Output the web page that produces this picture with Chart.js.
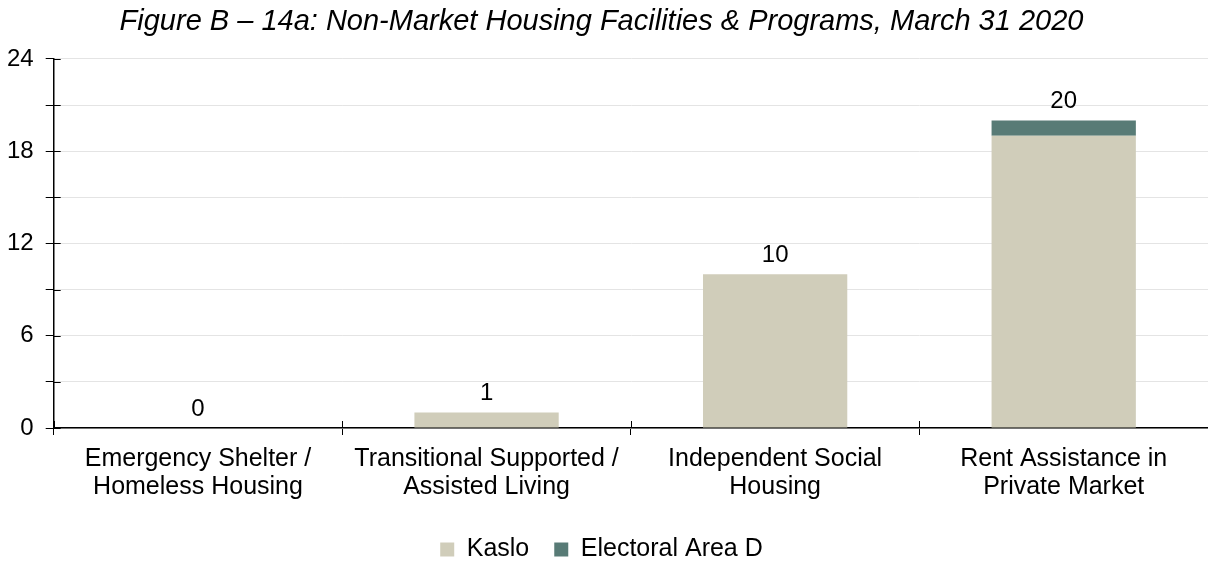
<!DOCTYPE html>
<html>
<head>
<meta charset="utf-8">
<script src="https://cdn.jsdelivr.net/npm/chart.js@4/dist/chart.umd.min.js"></script>
<style>
  html, body { margin: 0; padding: 0; background: #fff; }
  #wrap { width: 1208px; height: 561px; }
</style>
</head>
<body>
<div id="wrap"><canvas id="myChart" width="1208" height="561"></canvas></div>
<script>
// data
const categories = [
    ['Emergency Shelter /', 'Homeless Housing'],
    ['Transitional Supported /', 'Assisted Living'],
    ['Independent Social', 'Housing'],
    ['Rent Assistance in', 'Private Market']
];
const kaslo = [0, 1, 10, 19];
const areaD = [0, 0, 0, 1];
const yTicks = [0, 6, 12, 18, 24];

const FONT = 'Arial, "Liberation Sans", sans-serif';

// totals above each stack + small right-side stubs on the y axis
const extras = {
    id: 'extras',
    afterDatasetsDraw(chart) {
        const ctx = chart.ctx;
        const x = chart.scales.x, y = chart.scales.y;
        ctx.save();
        ctx.font = '24px ' + FONT;
        ctx.fillStyle = '#000';
        ctx.textAlign = 'center';
        ctx.textBaseline = 'bottom';
        categories.forEach((c, i) => {
            const total = kaslo[i] + areaD[i];
            ctx.fillText(String(total), x.getPixelForValue(i), y.getPixelForValue(total) - 7);
        });
        ctx.strokeStyle = '#000';
        ctx.lineWidth = 1;
        y.ticks.forEach(t => {
            const py = Math.round(y.getPixelForValue(t.value)) + 0.5;
            ctx.beginPath();
            ctx.moveTo(x.left, py);
            ctx.lineTo(x.left + 7, py);
            ctx.stroke();
        });
        ctx.beginPath();
        for (let i = 0; i <= categories.length; i++) {
            const px = Math.round(x.getPixelForValue(i - 0.5)) + 0.5;
            ctx.moveTo(px, y.bottom);
            ctx.lineTo(px, y.bottom - 7);
        }
        ctx.stroke();
        ctx.restore();
    }
};

new Chart(document.getElementById('myChart').getContext('2d'), {
    type: 'bar',
    data: {
        labels: categories,
        datasets: [
            { label: 'Kaslo', data: kaslo, backgroundColor: 'rgb(208,205,186)' },
            { label: 'Electoral Area D', data: areaD, backgroundColor: 'rgb(88,123,118)' }
        ]
    },
    options: {
        responsive: false,
        animation: false,
        layout: { padding: { left: -5, right: 0, top: 0, bottom: -11 } },
        datasets: { bar: { barPercentage: 0.5, categoryPercentage: 1 } },
        scales: {
            x: {
                stacked: true,
                offset: true,
                grid: { offset: true, drawOnChartArea: false, color: '#000', tickColor: '#000', tickLength: 7 },
                border: { color: '#000', width: 1.5 },
                ticks: { color: '#000', font: { size: 25, family: FONT, lineHeight: 1.12 }, padding: 10, maxRotation: 0 },
                afterFit: s => { s.height += 1; }
            },
            y: {
                stacked: true,
                min: 0,
                max: 24,
                grid: { color: '#e4e4e4', tickColor: '#000', tickLength: 8 },
                border: { color: '#000', width: 1.5 },
                ticks: {
                    stepSize: 3,
                    color: '#000',
                    font: { size: 24, family: FONT },
                    padding: 12,
                    callback: v => yTicks.includes(v) ? v : ''
                }
            }
        },
        plugins: {
            title: {
                display: true,
                text: 'Figure B – 14a: Non-Market Housing Facilities & Programs, March 31 2020',
                color: '#000',
                font: { size: 29, family: FONT, style: 'italic', weight: 'normal', lineHeight: 1.1 },
                padding: { top: 6, bottom: 21 }
            },
            legend: {
                position: 'bottom',
                labels: { color: '#000', font: { size: 25, family: FONT }, boxWidth: 14, boxHeight: 14, padding: 25 }
            },
            tooltip: { enabled: false }
        }
    },
    plugins: [extras]
});
</script>
</body>
</html>
